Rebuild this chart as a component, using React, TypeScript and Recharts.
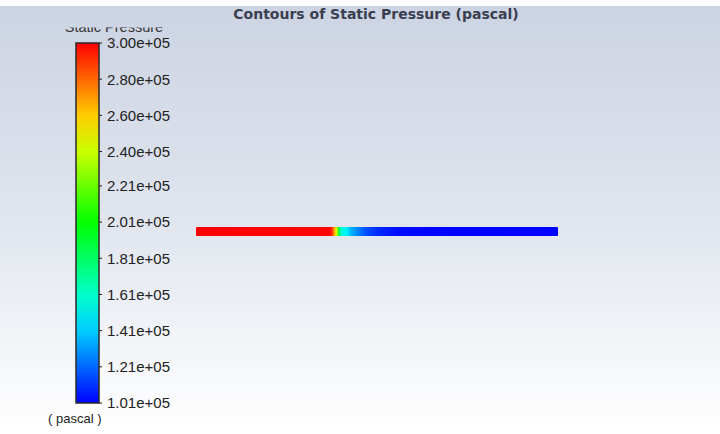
import React from "react";
import { BarChart, Bar, XAxis, YAxis } from "recharts";

const chartTitle = "Contours of Static Pressure (pascal)";
const legendTitle = "Static Pressure";
const unitLabel = "( pascal )";

// colorbar
const pMin = 101000;
const pMax = 300000;
const tickValues = [101000, 121000, 141000, 161000, 181000, 201000, 221000, 240000, 260000, 280000, 300000];
const tickLabels = ["1.01e+05", "1.21e+05", "1.41e+05", "1.61e+05", "1.81e+05", "2.01e+05", "2.21e+05", "2.40e+05", "2.60e+05", "2.80e+05", "3.00e+05"];

// static pressure along the pipe (position as fraction of pipe length)
const pipePos = [0, 0.1, 0.2, 0.3, 0.37, 0.378, 0.383, 0.388, 0.392, 0.396, 0.4, 0.417, 0.43, 0.445, 0.467, 0.508, 0.563, 0.65, 1.0];
const pipePressure = [300000, 299900, 299700, 299400, 299000, 285000, 265000, 245000, 215000, 185000, 160000, 148000, 135000, 128000, 117000, 108000, 103000, 101500, 101000];

const FONT = "'Liberation Sans', Arial, sans-serif";

// fluent-like rainbow: blue -> cyan -> green -> yellow -> red
const rainbow: [number, number, number][] = [
    [0, 0, 255],
    [0, 255, 255],
    [0, 255, 0],
    [255, 255, 0],
    [255, 0, 0],
];

function colorFor(p: number) {
    let t = (p - pMin) / (pMax - pMin);
    t = Math.max(0, Math.min(1, t));
    const s = t * (rainbow.length - 1);
    const i = Math.min(rainbow.length - 2, Math.floor(s));
    const f = s - i;
    const a = rainbow[i];
    const b = rainbow[i + 1];
    const c = a.map((v, k) => Math.round(v + (b[k] - v) * f));
    return `rgb(${c[0]},${c[1]},${c[2]})`;
}

const colorbarData = [{ name: "scale", range: [pMin, pMax] }];
const pipeData = [{ name: "pipe", span: [0, 1] }];

function tickText(v: number) {
    const i = tickValues.indexOf(v);
    return i >= 0 ? tickLabels[i] : String(v);
}

export default function App() {
    return (
        <div
            style={{
                position: "absolute",
                top: 0,
                left: 0,
                width: 720,
                height: 434,
                overflow: "hidden",
                background: "linear-gradient(to bottom, #ffffff 0px, #ffffff 6px, #ccd3e2 6px, #e0e5ee 220px, #ffffff 430px)",
            }}
        >
            <svg width={720} height={434} style={{ position: "absolute", top: 0, left: 0 }}>
                <defs>
                    <clipPath id="legendClip">
                        <rect x={0} y={27.5} width={720} height={5} />
                    </clipPath>
                </defs>
                <text x={376} y={19} textAnchor="middle" fontFamily="'DejaVu Sans', Tahoma, sans-serif" fontWeight="bold" fontSize={14} fill="#3a3f50">
                    {chartTitle}
                </text>
                <text x={114} y={32} textAnchor="middle" fontFamily={FONT} fontSize={14.5} fill="#333" clipPath="url(#legendClip)">
                    {legendTitle}
                </text>
                <text x={48} y={423} fontFamily={FONT} fontSize={13} fill="#222">
                    {unitLabel}
                </text>
            </svg>

            <div style={{ position: "absolute", top: 0, left: 0 }}>
                <BarChart
                    width={720}
                    height={434}
                    data={colorbarData}
                    margin={{ top: 43, bottom: 31, left: 76, right: 541 }}
                    barCategoryGap={0}
                >
                    <defs>
                        <linearGradient id="cbGrad" x1="0" y1="1" x2="0" y2="0">
                            {tickValues.map((v, i) => (
                                <stop key={i} offset={(v - pMin) / (pMax - pMin)} stopColor={colorFor(v)} />
                            ))}
                        </linearGradient>
                    </defs>
                    <XAxis dataKey="name" hide />
                    <YAxis
                        orientation="right"
                        type="number"
                        domain={[pMin, pMax]}
                        ticks={tickValues}
                        tickFormatter={tickText}
                        axisLine={false}
                        tickSize={3}
                        tickMargin={5}
                        width={80}
                        interval={0}
                        tickLine={{ stroke: "#222" }}
                        tick={{ fontFamily: FONT, fontSize: 15, fill: "#222" }}
                    />
                    <Bar dataKey="range" fill="url(#cbGrad)" stroke="#2a2a2a" strokeWidth={1.5} isAnimationActive={false} />
                </BarChart>
            </div>

            <div style={{ position: "absolute", top: 0, left: 0 }}>
                <BarChart
                    width={720}
                    height={434}
                    data={pipeData}
                    layout="vertical"
                    margin={{ top: 200, bottom: 171, left: 196, right: 162 }}
                >
                    <defs>
                        <linearGradient id="pipeGrad" x1="0" y1="0" x2="1" y2="0">
                            {pipePos.map((x, i) => (
                                <stop key={i} offset={x} stopColor={colorFor(pipePressure[i])} />
                            ))}
                        </linearGradient>
                    </defs>
                    <XAxis type="number" domain={[0, 1]} hide />
                    <YAxis type="category" dataKey="name" hide />
                    <Bar dataKey="span" barSize={9} fill="url(#pipeGrad)" radius={1} isAnimationActive={false} />
                </BarChart>
            </div>
        </div>
    );
}
